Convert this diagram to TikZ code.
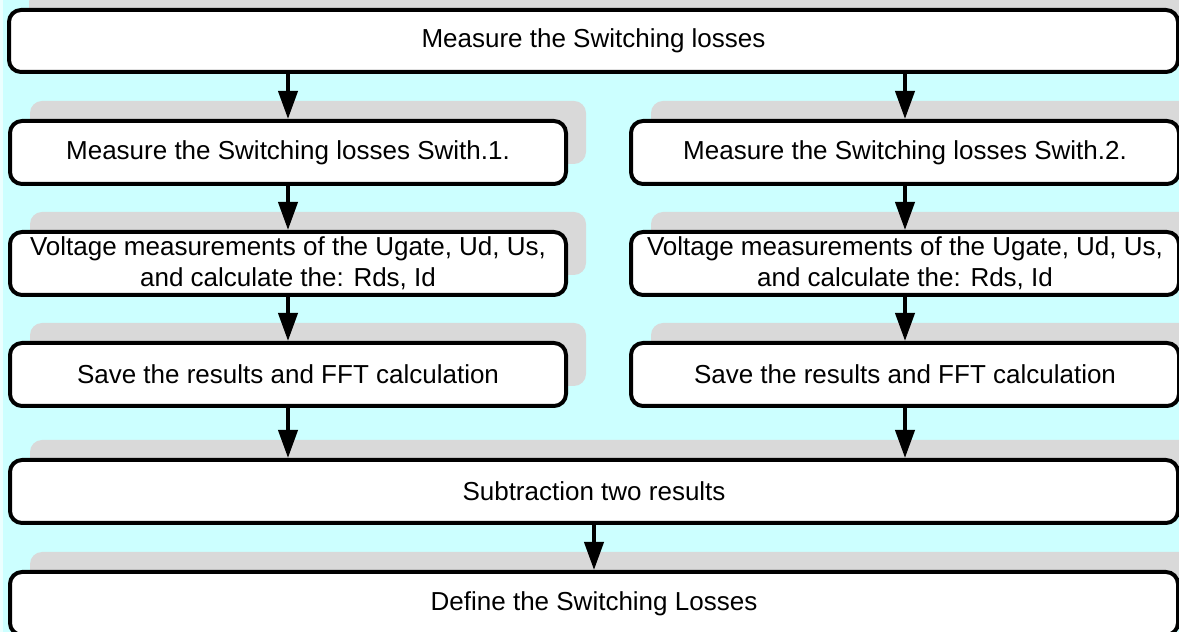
\documentclass[tikz,border=0pt]{standalone}
\usepackage{fontspec}
\setmainfont{Liberation Sans}
\usetikzlibrary{arrows.meta,shadows}
\definecolor{bgc}{HTML}{CCFFFF}
\definecolor{shc}{HTML}{D9D9D9}
\begin{document}
\begin{tikzpicture}[x=1pt,y=1pt,
  box/.style={draw=black, line width=4pt, rounded corners=12pt, fill=white,
    general shadow={shadow xshift=20pt, shadow yshift=20pt, fill=shc},
    inner sep=0pt, align=center, font=\fontsize{26}{31}\selectfont},
  arr/.style={line width=4pt, -{Triangle[length=28pt,width=19pt]}}]
\useasboundingbox (0,0) rectangle (1179,632);
\clip (0,0) rectangle (1179,632);
\fill[bgc] (0,0) rectangle (1179,632);
\fill[white!60!bgc] (0,0) rectangle (2.5,632);

\node[box, minimum width=1169pt, minimum height=62pt] (b1) at (593.5,591) {Measure the Switching losses};
\node[box, minimum width=556pt, minimum height=63pt] (b2l) at (288,479.5) {Measure the Switching losses Swith.1.};
\node[box, minimum width=548pt, minimum height=63pt] (b2r) at (905,479.5) {Measure the Switching losses Swith.2.};
\node[box, minimum width=556pt, minimum height=63pt] (b3l) at (288,368.5) {Voltage measurements of the Ugate, Ud, Us,\\and calculate the: Rds, Id};
\node[box, minimum width=548pt, minimum height=63pt] (b3r) at (905,368.5) {Voltage measurements of the Ugate, Ud, Us,\\and calculate the: Rds, Id};
\node[box, minimum width=556pt, minimum height=63pt] (b4l) at (288,257.5) {Save the results and FFT calculation};
\node[box, minimum width=548pt, minimum height=63pt] (b4r) at (905,257.5) {Save the results and FFT calculation};
\node[box, minimum width=1168pt, minimum height=63pt] (b5) at (594,140.5) {Subtraction two results};
\node[box, minimum width=1168pt, minimum height=63pt] (b6) at (594,28.5) {Define the Switching Losses};

\draw[arr] (b1.south -| b2l.north) -- (b2l.north);
\draw[arr] (b1.south -| b2r.north) -- (b2r.north);
\draw[arr] (b2l.south) -- (b3l.north);
\draw[arr] (b2r.south) -- (b3r.north);
\draw[arr] (b3l.south) -- (b4l.north);
\draw[arr] (b3r.south) -- (b4r.north);
\draw[arr] (b4l.south) -- (b4l.south |- b5.north);
\draw[arr] (b4r.south) -- (b4r.south |- b5.north);
\draw[arr] (b5.south) -- (b6.north);
\end{tikzpicture}
\end{document}
